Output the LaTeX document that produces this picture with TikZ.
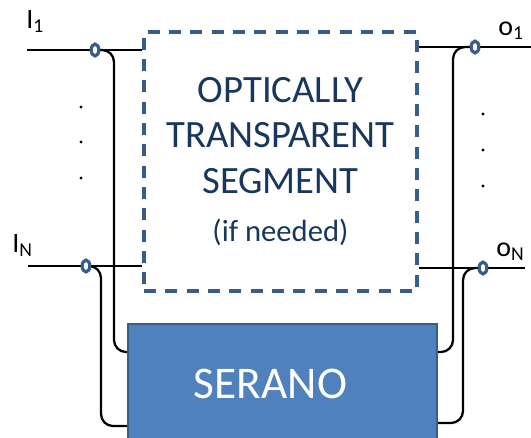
\documentclass[tikz,border=0pt]{standalone}
\usepackage{fontspec}
\setmainfont{Carlito}
\usetikzlibrary{positioning,calc}
\definecolor{segblue}{RGB}{56,93,138}
\definecolor{seranofill}{RGB}{79,129,189}
\definecolor{txtnavy}{RGB}{23,55,94}

\begin{document}
\begin{tikzpicture}[
x=0.75pt,y=-0.75pt,
wire/.style={line width=1.7pt,black},
tap/.style={line width=2.4pt,draw=segblue,fill=white},
segbox/.style={draw=segblue,line width=2.5pt,dash pattern=on 9pt off 7pt,
  minimum width=204.75pt,minimum height=194.25pt,align=center,
  text=txtnavy,font=\fontsize{29}{34}\selectfont},
serbox/.style={draw=segblue,line width=1.7pt,fill=seranofill,
  minimum width=231.75pt,minimum height=90.75pt,text=white,
  font=\fontsize{34}{40}\selectfont},
portlbl/.style={anchor=base west,inner sep=0pt,font=\fontsize{21}{24}\selectfont}]
    \useasboundingbox (0,0) rectangle (531,437);

    % Draw boxes
    \node[segbox] (segment) at (280.5,161.5)
        {OPTICALLY\\TRANSPARENT\\SEGMENT\\[2pt]{\fontsize{23}{26}\selectfont (if needed)}};
    \node[serbox] (serano) at (282.5,384.5) {\hspace*{-18pt}\raisebox{1pt}{SERANO}};

    % Ports and taps
    \coordinate (inA) at (27,50);
    \coordinate (inB) at (28,266);
    \coordinate (outA) at (531,47);
    \coordinate (outB) at (525,268);
    \coordinate (tapA) at (95,50);
    \coordinate (tapB) at (86,266);
    \coordinate (tapC) at (475,47);
    \coordinate (tapD) at (483,268);

    \node[portlbl] (lblA) at (26,28) {I\textsubscript{1}};
    \node[portlbl] (lblB) at (12,252) {I\textsubscript{N}};
    \node[portlbl] (lblC) at (498,35) {o\textsubscript{1}};
    \node[portlbl] (lblD) at (496,256) {o\textsubscript{N}};

    % Main lines
    \draw[wire] (inA) -- (segment.west |- inA);
    \draw[wire] (inB) -- (segment.west |- inB);
    \draw[wire] (segment.east |- outA) -- (outA);
    \draw[wire] (segment.east |- outB) -- (outB);

    % Branches to SERANO
    \draw[wire,rounded corners=9pt] (tapA) -| (114,352) -- (serano.west |- 0,352);
    \draw[wire,rounded corners=9pt] (tapB) -| (101,426) -- (serano.west |- 0,426);
    \draw[wire,rounded corners=9pt] (tapC) -| (453,352) -- (serano.east |- 0,352);
    \draw[wire,rounded corners=9pt] (tapD) -| (463,423) -- (serano.east |- 0,423);

    \foreach \t in {tapA,tapB,tapC,tapD}
        \draw[tap] (\t) ellipse (2.9pt and 4.4pt);

    % Dots
    \foreach \y in {107,142,178}
        \fill (81,\y) circle (1.2pt);
    \foreach \y in {114,150,186}
        \fill (483,\y) circle (1.2pt);
\end{tikzpicture}
\end{document}
